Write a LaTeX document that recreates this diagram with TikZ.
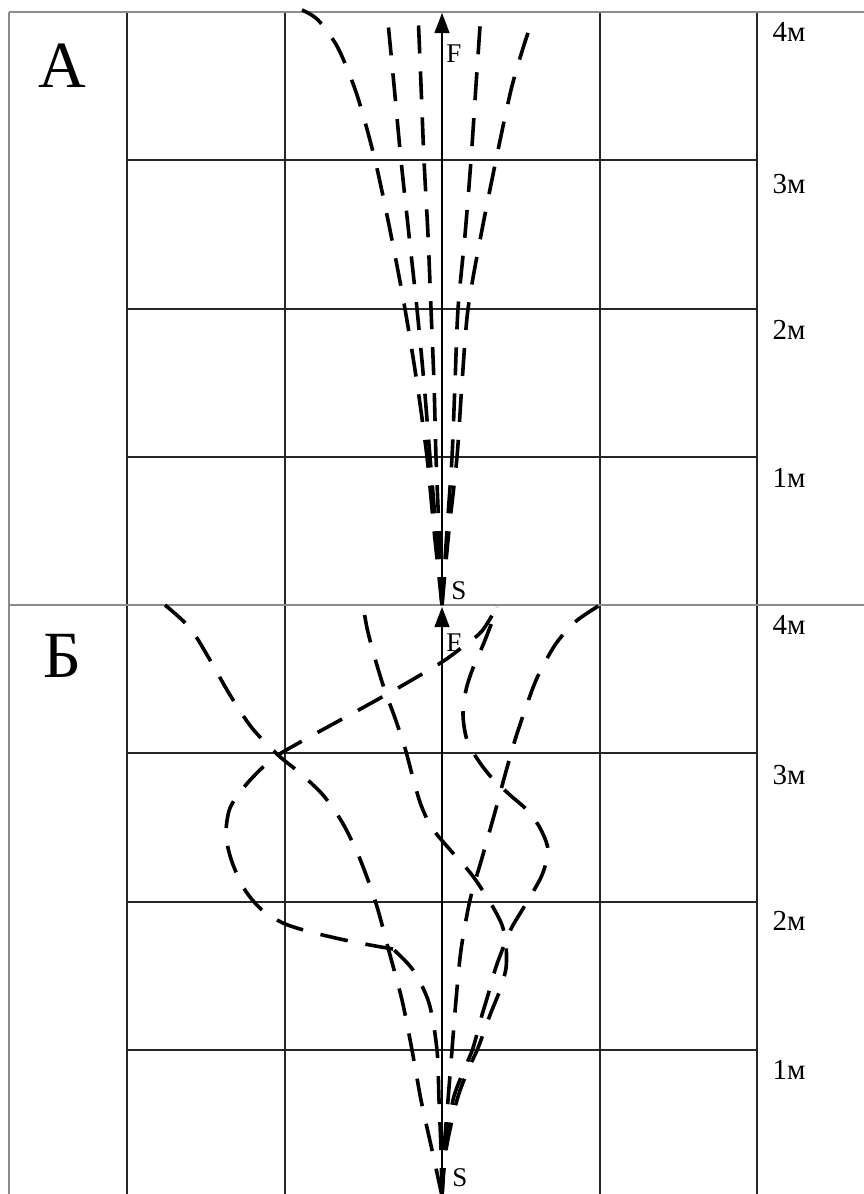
\documentclass[tikz,border=0pt]{standalone}
\usepackage{fontspec}
\setmainfont{Liberation Serif}
\usetikzlibrary{arrows.meta}
\begin{document}
\begin{tikzpicture}[x=1pt,y=-1pt,
  gridline/.style={line width=1.2pt, black!85},
  borderline/.style={line width=2pt, black!45},
  track/.style={line width=3.6pt, dash pattern=on 28pt off 18pt, line join=round},
  axisarrow/.style={line width=1.2pt, black, -{Triangle[length=20pt,width=15pt]}},
  meter/.style={font=\fontsize{29}{29}\selectfont, inner sep=0pt},
  ptlabel/.style={font=\fontsize{27}{27}\selectfont, inner sep=0pt},
  panel/.style={font=\fontsize{66}{66}\selectfont, inner sep=0pt}]
\useasboundingbox (0,0) rectangle (864,1194);
\fill[white] (0,0) rectangle (864,1194);
% grid
\foreach \x in {127,285,600,757} \draw[gridline] (\x,12) -- (\x,1194);
\foreach \y in {160,309,457,753,902,1050} \draw[gridline] (127,\y) -- (757,\y);
\draw[borderline] (9,12) -- (9,1194);
\draw[borderline] (9,12) -- (864,12);
\draw[borderline] (9,605) -- (864,605);
% axes with arrows
\coordinate (SA) at (442,605);
\coordinate (FA) at (442,13);
\coordinate (SB) at (442,1196);
\coordinate (FB) at (442,607);
\draw[axisarrow] (SA) -- (FA);
\draw[axisarrow] (SB) -- (FB);
\node[ptlabel] (labFA) at (454,54) {F};
\node[ptlabel] (labSA) at (459,591) {S};
\node[ptlabel] (labFB) at (454,643) {F};
\node[ptlabel] (labSB) at (460,1178) {S};
% panel letters
\node[panel] (pA) at (62,66) {А};
\node[panel] (pB) at (62,656) {Б};
% meter labels
\node[meter] (mA4) at (789,32) {4м};
\node[meter] (mA3) at (789,184) {3м};
\node[meter] (mA2) at (789,330) {2м};
\node[meter] (mA1) at (789,478) {1м};
\node[meter] (mB4) at (789,625) {4м};
\node[meter] (mB3) at (789,775) {3м};
\node[meter] (mB2) at (789,921) {2м};
\node[meter] (mB1) at (789,1070) {1м};
% panel A tracks
\draw[track] plot[smooth] coordinates {(442,605) (434,530) (427,457) (417,383) (405,309) (391,235) (375,160) (357,95) (338,48) (318,20) (302,10)};
\draw[track] plot[smooth] coordinates {(442,605) (436,530) (430,457) (424,383) (417,309) (409,235) (401,160) (394,85) (387,12)};
\draw[track] plot[smooth] coordinates {(442,605) (439,530) (436,457) (434,383) (431,309) (428,235) (424,160) (421,85) (418,12)};
\draw[track] plot[smooth] coordinates {(442,605) (447,530) (452,457) (455,383) (458,309) (465,235) (471,160) (476,85) (481,12)};
\draw[track] plot[smooth] coordinates {(442,605) (449,530) (457,457) (462,383) (468,309) (481,235) (496,160) (511,90) (524,45) (534,16)};
% panel B tracks
\draw[track] plot[smooth] coordinates {(442,1196) (432,1150) (421,1100) (412,1050) (402,1000) (390,955) (378,910) (368,880) (357,852) (342,822) (323,795) (300,773) (278,755) (252,728) (230,695) (210,660) (190,628) (165,605)};
\draw[track] plot[smooth] coordinates {(442,1196) (441,1150) (439,1100) (437,1050) (429,1003) (413,970) (393,949)};
\draw[track] plot[smooth] coordinates {(393,949) (370,945) (340,939) (307,931) (283,923) (262,910) (245,890) (232,862) (226,835) (230,808) (245,786) (262,768) (278,755) (313,735) (355,712) (398,688) (442,662) (465,645) (482,631) (497,607)};
\draw[track] plot[smooth] coordinates {(442,1196) (444,1150) (448,1100) (452,1050) (456,1000) (461,950) (470,900) (482,858) (495,812) (505,775) (515,740) (525,710) (537,678) (555,645) (575,622) (600,605)};
\draw[track] plot[smooth] coordinates {(442,1196) (445,1150) (453,1100) (464,1070) (473,1048) (482,1015) (488,995) (495,970) (503,948) (512,927) (527,902) (542,875) (548,850) (540,828) (527,810) (510,795) (492,778) (478,760) (467,740) (463,715) (466,690) (473,668) (483,645) (492,622) (497,607)};
\draw[track] plot[smooth] coordinates {(442,1196) (446,1150) (457,1100) (468,1070) (478,1048) (490,1015) (500,990) (506,968) (506,945) (502,925) (490,902) (472,875) (452,852) (432,828) (421,805) (413,778) (405,748) (395,718) (384,688) (374,655) (367,628) (363,605)};
\end{tikzpicture}
\end{document}
